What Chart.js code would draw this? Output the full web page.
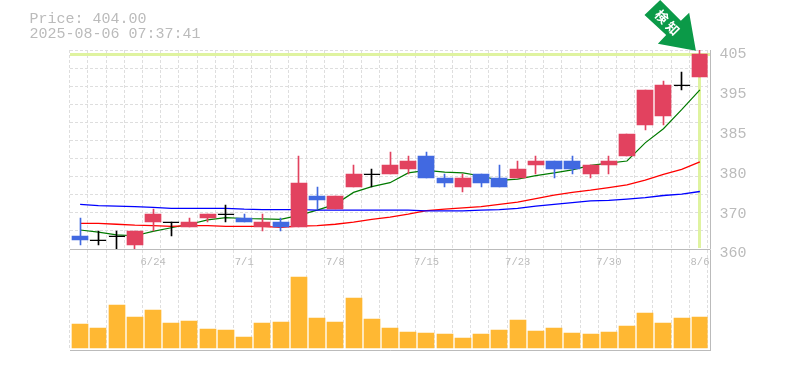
<!DOCTYPE html>
<html>
<head>
<meta charset="utf-8">
<style>
  body { margin: 0; background: #fff; }
  canvas { position: absolute; left: 0; }
  #price-chart { top: 0; z-index: 2; }
  #volume-chart { top: 250px; z-index: 1; }
</style>
<script src="https://cdn.jsdelivr.net/npm/chart.js@4/dist/chart.umd.js"></script>
</head>
<body>
<canvas id="price-chart" width="785" height="270"></canvas>
<canvas id="volume-chart" width="785" height="120"></canvas>
<script>
  const categories = ['6/18','6/19','6/20','6/23','6/24','6/25','6/26','6/27','6/30','7/1','7/2','7/3','7/4','7/7','7/8','7/9','7/10','7/11','7/14','7/15','7/16','7/17','7/18','7/22','7/23','7/24','7/25','7/28','7/29','7/30','7/31','8/1','8/4','8/5','8/6'];
  const dateTicks = ['6/24','7/1','7/8','7/15','7/23','7/30','8/6'];

  const opens  = [363,362,363,361,366,366,365,367,368,367,365,366,365,372,369,374,377,377,378,381,376,374,377,376,376,379,380,380,377,379,381,388,390,397,399];
  const highs  = [367,364,364,364,369,366,367,368,370,368,368,367,381,374,372,379,378,382,381,382,377,377,377,379,380,381,380,381,379,381,386,396,398,400,405];
  const lows   = [361,361,360,360,364,363,365,366,366,366,364,364,365,369,369,374,374,377,377,376,374,373,374,374,376,377,376,377,376,377,381,387,388,396,399];
  const closes = [362,362,363,364,368,366,366,368,368,366,366,365,375,371,372,377,377,379,380,376,375,376,375,374,378,380,378,378,379,380,386,396,397,397,404];

  const maShort = [364.3,363.8,363.2,363.0,364.0,364.8,365.6,366.6,367.1,366.9,366.8,366.7,367.6,368.8,370.1,372.8,374.1,375.0,377.2,377.8,377.4,377.2,376.5,375.5,375.8,376.6,377.2,377.9,378.9,379.4,379.9,384.0,387.2,391.5,396.0];
  const maMid   = [365.8,365.8,365.6,365.4,365.3,365.1,365.3,365.3,365.1,365.1,365.1,364.9,365.2,365.3,365.6,366.1,366.7,367.2,367.9,368.7,369.0,369.3,369.6,370.1,370.6,371.4,372.2,372.8,373.3,373.9,374.5,375.6,376.9,378.0,379.7];
  const maLong  = [370.1,369.8,369.7,369.6,369.4,369.2,369.2,369.2,369.2,369.0,368.9,368.9,368.9,368.8,368.8,368.8,368.8,368.8,368.8,368.6,368.6,368.6,368.8,368.9,369.2,369.7,370.1,370.5,370.9,371.0,371.3,371.6,372.1,372.4,373.0];

  const volumes = [24,20,43,31,38,25,27,19,18,11,25,26,71,30,26,50,29,20,16,15,14,10,14,18,28,17,20,15,14,16,22,35,25,30,31];

  const priceTickValues = [360,369,378,387,396,405];
  const priceTickLabels = ['360','370','380','385','395','405'];
  const priceText = 'Price: 404.00';
  const timeText = '2025-08-06 07:37:41';
  const lastPrice = 404;
  const badgeText = '検知';

  const PLOT_LEFT = 69.6, PLOT_WIDTH = 638, CANVAS_W = 785;
  const NUDGE = 1.4;  // candles sit a bit right of the cell centre
  const AXIS_X = 710.5;
  const GRID = '#dedede', AXIS = '#bbbbbb', TEXT = '#bbbbbb', BAND = '#dff3a0';
  const UP = '#e2425f', DOWN = '#4169e1', FLAT = '#000000';
  const MONO = '"Liberation Mono", monospace';

  function candleColor(i) {
    if (closes[i] > opens[i]) return UP;
    if (closes[i] < opens[i]) return DOWN;
    return FLAT;
  }

  // snap candles onto whole pixels so they stay crisp
  const snapCandles = {
    id: 'snapCandles',
    beforeDatasetsDraw(chart) {
      const xs = chart.scales.x;
      chart.data.datasets.forEach((ds, n) => {
        chart.getDatasetMeta(n).data.forEach((el, i) => {
          const c = xs.getPixelForValue(i) + NUDGE;
          if (ds.role === 'body') {
            el.x = Math.round(c); el.y = Math.round(el.y); el.base = Math.round(el.base);
          } else if (ds.role === 'wick') {
            el.x = Math.floor(c) + 0.5; el.y = Math.round(el.y); el.base = Math.round(el.base);
          } else if (ds.role === 'flat') {
            el.x = Math.round(c); el.y = Math.round(el.y) + 0.5;
          } else {
            el.x = c;
          }
        });
      });
    }
  };

  const priceBands = {
    id: 'priceBands',
    beforeDatasetsDraw(chart) {
      const { ctx, scales } = chart;
      const y = Math.round(scales.y.getPixelForValue(lastPrice));
      const x = Math.floor(scales.x.getPixelForValue(categories.length - 1) + NUDGE);
      ctx.save();
      ctx.fillStyle = BAND;
      ctx.fillRect(70, y - 1, AXIS_X - 70, 3);
      ctx.fillRect(x - 1, y - 1, 3, scales.y.getPixelForValue(360) - y);
      ctx.restore();
    },
    afterDraw(chart) {
      const { ctx, chartArea } = chart;
      ctx.save();
      ctx.strokeStyle = AXIS;
      ctx.lineWidth = 1;
      ctx.beginPath();
      ctx.moveTo(70, chartArea.bottom + 0.5);
      ctx.lineTo(AXIS_X, chartArea.bottom + 0.5);
      ctx.moveTo(AXIS_X, chartArea.top);
      ctx.lineTo(AXIS_X, chartArea.bottom);
      ctx.stroke();
      ctx.restore();
    }
  };

  const headerAndArrow = {
    id: 'headerAndArrow',
    afterDraw(chart) {
      const { ctx, scales } = chart;
      ctx.save();
      ctx.font = '15px ' + MONO;
      ctx.fillStyle = TEXT;
      ctx.textBaseline = 'alphabetic';
      ctx.fillText(priceText, 29.5, 23);
      ctx.fillText(timeText, 29.5, 38);

      // arrow points at the newest candle's high
      const tipX = scales.x.getPixelForValue(categories.length - 1) + NUDGE - 4;
      const tipY = scales.y.getPixelForValue(405) + 0.7;
      const shape = [[-51.4,-35.7],[-35.7,-50.7],[-15,-30],[-6.7,-38],[0,0],[-38,-7],[-29.7,-15.7]];
      ctx.fillStyle = '#0b9a48';
      ctx.beginPath();
      shape.forEach((p, i) => {
        if (i === 0) ctx.moveTo(tipX + p[0], tipY + p[1]);
        else ctx.lineTo(tipX + p[0], tipY + p[1]);
      });
      ctx.closePath();
      ctx.fill();

      ctx.fillStyle = '#ffffff';
      ctx.font = 'bold 13px "Noto Sans CJK JP"';
      ctx.textAlign = 'center';
      ctx.textBaseline = 'middle';
      [...badgeText].forEach((ch, i) => {
        ctx.save();
        ctx.translate(tipX - 34 + i * 11, tipY - 34 + i * 11.6);
        ctx.rotate(Math.PI / 4);
        ctx.fillText(ch, 0, 0);
        ctx.restore();
      });
      ctx.restore();
    }
  };

  const volumeFrame = {
    id: 'volumeFrame',
    afterDraw(chart) {
      const { ctx, chartArea } = chart;
      ctx.save();
      ctx.strokeStyle = AXIS;
      ctx.lineWidth = 1;
      ctx.beginPath();
      ctx.moveTo(70, chartArea.bottom + 0.5);
      ctx.lineTo(AXIS_X, chartArea.bottom + 0.5);
      ctx.moveTo(AXIS_X, chartArea.top);
      ctx.lineTo(AXIS_X, chartArea.bottom + 1);
      ctx.stroke();
      ctx.restore();
    }
  };

  function lineSet(data, color, width) {
    return { type: 'line', role: 'ma', data, borderColor: color, borderWidth: width, pointRadius: 0, tension: 0, order: 5 };
  }

  new Chart(document.getElementById('price-chart'), {
    data: {
      labels: categories,
      datasets: [
        { type: 'bar', role: 'body', data: opens.map((o, i) => [o, closes[i]]), backgroundColor: categories.map((_, i) => candleColor(i)), barThickness: 16, grouped: false, order: 1 },
        { type: 'bar', role: 'wick', data: lows.map((l, i) => [l, highs[i]]), backgroundColor: categories.map((_, i) => candleColor(i)), barThickness: 1, grouped: false, order: 2 },
        { type: 'line', role: 'flat', data: closes.map((c, i) => (c === opens[i] ? c : null)), showLine: false, pointStyle: 'line', pointRadius: 8, pointBorderWidth: 1, pointBorderColor: FLAT, order: 2 },
        lineSet(maLong, '#0000ff', 1.3),
        lineSet(maMid, '#ff0000', 1.3),
        lineSet(maShort, '#007a00', 1.2)
      ]
    },
    options: {
      responsive: false,
      animation: false,
      events: [],
      layout: { padding: { left: PLOT_LEFT, top: 50 } },
      plugins: { legend: { display: false }, tooltip: { enabled: false } },
      scales: {
        x: {
          offset: true,
          grid: { offset: true, color: GRID, lineWidth: 1, drawTicks: false },
          border: { display: false, dash: [3, 2] },
          afterFit: s => { s.height = 20; },
          ticks: {
            autoSkip: false, maxRotation: 0, padding: 7, labelOffset: 1.5, color: TEXT,
            font: { family: MONO, size: 10.5 },
            callback: (v, i) => (dateTicks.includes(categories[i]) ? categories[i] : '')
          }
        },
        y: {
          position: 'right', min: 360, max: 405,
          grid: { display: false, drawTicks: false },
          border: { display: false },
          afterFit: s => { s.width = CANVAS_W - PLOT_LEFT - PLOT_WIDTH; },
          afterBuildTicks: s => { s.ticks = priceTickValues.map(value => ({ value })); },
          ticks: {
            autoSkip: false, padding: 12, labelOffset: 4.5, color: TEXT,
            font: { family: MONO, size: 15 },
            callback: (v, i) => priceTickLabels[i]
          }
        },
        yGrid: {
          position: 'left', min: 360, max: 405,
          grid: { color: GRID, drawTicks: false },
          border: { display: false, dash: [3, 2] },
          afterFit: s => { s.width = 0; },
          afterBuildTicks: s => { s.ticks = Array.from({ length: 12 }, (_, i) => ({ value: 360 + i * 45 / 11 })); },
          ticks: { display: false }
        }
      }
    },
    plugins: [snapCandles, priceBands, headerAndArrow]
  });

  new Chart(document.getElementById('volume-chart'), {
    data: {
      labels: categories,
      datasets: [
        { type: 'bar', role: 'body', data: volumes, backgroundColor: '#ffb833', barThickness: 16 }
      ]
    },
    options: {
      responsive: false,
      animation: false,
      events: [],
      layout: { padding: { left: PLOT_LEFT, right: CANVAS_W - PLOT_LEFT - PLOT_WIDTH } },
      plugins: { legend: { display: false }, tooltip: { enabled: false } },
      scales: {
        x: {
          offset: true,
          grid: { offset: true, color: GRID, drawTicks: false },
          border: { display: false, dash: [3, 2] },
          afterFit: s => { s.height = 20; },
          ticks: { display: false }
        },
        y: { display: false, min: -2, max: 98 }
      }
    },
    plugins: [snapCandles, volumeFrame]
  });
</script>
</body>
</html>
